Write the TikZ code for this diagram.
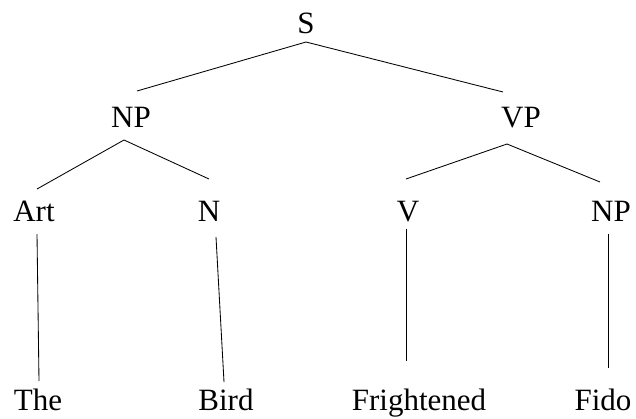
\documentclass[tikz,border=0pt]{standalone}
\usepackage{fontspec}
\setmainfont{Liberation Serif}
\begin{document}
\begin{tikzpicture}[x=1pt,y=-1pt,
  lbl/.style={anchor=base,inner sep=0pt,font=\fontsize{31}{36}\selectfont},
  edge/.style={line width=0.85pt,black}]
\useasboundingbox (0,0) rectangle (636,418);
% labels
\node[lbl] (S) at (306,33) {S};
\node[lbl] (NP1) at (131,127) {NP};
\node[lbl] (VP) at (521,127) {VP};
\node[lbl] (Art) at (34,221) {Art};
\node[lbl] (N) at (209,221) {N};
\node[lbl] (V) at (408,221) {V};
\node[lbl] (NP2) at (611,221) {NP};
\node[lbl] (The) at (38,410) {The};
\node[lbl] (Bird) at (226,410) {Bird};
\node[lbl] (Fr) at (419,410) {Frightened};
\node[lbl] (Fido) at (603,410) {Fido};
% connector end points
\coordinate (Sb) at (306,42);
\coordinate (NP1t) at (137,91);
\coordinate (VPt) at (503,92);
\coordinate (NP1b) at (124,140);
\coordinate (Artt) at (37,189);
\coordinate (Nt) at (209,179);
\coordinate (VPb) at (507,144);
\coordinate (Vt) at (406,179);
\coordinate (NP2t) at (600,182);
\coordinate (Artb) at (37,234);
\coordinate (Thet) at (39,381);
\coordinate (Nb) at (216,237);
\coordinate (Birdt) at (224,382);
\coordinate (Vb) at (406,229);
\coordinate (Frt) at (406,361);
\coordinate (NP2b) at (608,234);
\coordinate (Fidot) at (608,368);
% connectors
\draw[edge] (NP1t) -- (Sb) -- (VPt);
\draw[edge] (Artt) -- (NP1b) -- (Nt);
\draw[edge] (Vt) -- (VPb) -- (NP2t);
\draw[edge] (Artb) -- (Thet);
\draw[edge] (Nb) -- (Birdt);
\draw[edge] (Vb) -- (Frt);
\draw[edge] (NP2b) -- (Fidot);
\end{tikzpicture}
\end{document}
